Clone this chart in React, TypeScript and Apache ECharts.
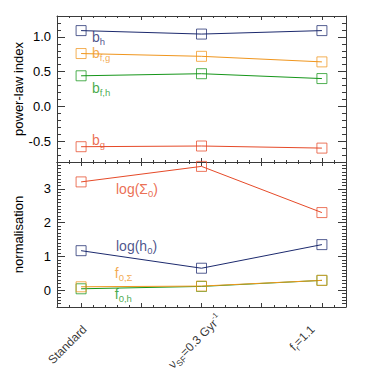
import React, { useEffect, useRef } from 'react';
import * as echarts from 'echarts';

// ---- data ----
const xPositions = [0, 1, 2];
const categories = ['Standard', 'νSF=0.3 Gyr-1', 'fr=1.1'];
const categoryRich = ['{m|Standard}', '{m|ν}{s|SF}{m|=0.3 Gyr}{p|-1}', '{m|f}{s|r}{m|=1.1}'];
const yTitles = ['power-law index', 'normalisation'];

const bH = [1.09, 1.04, 1.09];
const bFG = [0.76, 0.72, 0.64];
const bFH = [0.44, 0.47, 0.4];
const bG = [-0.58, -0.57, -0.6];

const logSigma0 = [3.21, 3.67, 2.3];
const logH0 = [1.17, 0.65, 1.35];
const f0Sigma = [0.1, 0.12, 0.29];
const f0H = [0.04, 0.11, 0.29];

// ---- styles ----
const NAVY = '#1c2a6e';
const ORANGE = '#f0961e';
const GREEN = '#16961a';
const RED = '#e64a28';
const AXIS = '#3a3a3a';
const FONT = 'Liberation Sans';

const GRID_LEFT = 57;
const GRID_WIDTH = 289;
const TOP_GRID = { top: 16, height: 146 };
const BOTTOM_GRID = { top: 162, height: 145 };

const topAnno = [
  { text: '{m|b}{s|h}', x: 0.09, y: 1.0, color: NAVY },
  { text: '{m|b}{s|f,g}', x: 0.09, y: 0.77, color: ORANGE },
  { text: '{m|b}{s|f,h}', x: 0.09, y: 0.27, color: GREEN },
  { text: '{m|b}{s|g}', x: 0.09, y: -0.49, color: RED },
];
const bottomAnno = [
  { text: '{m|log(Σ}{s|0}{m|)}', x: 0.29, y: 3.0, color: RED },
  { text: '{m|log(h}{s|0}{m|)}', x: 0.29, y: 1.31, color: NAVY },
  { text: '{m|f}{s|0,Σ}', x: 0.28, y: 0.5, color: ORANGE },
  { text: '{m|f}{s|0,h}', x: 0.28, y: -0.1, color: GREEN },
];
const xLabelOffsets = [
  [-12, 17],
  [6, 20],
  [-21, 8],
];

const annoRich = {
  m: { fontSize: 14, fontFamily: FONT, verticalAlign: 'middle' },
  s: { fontSize: 9.5, fontFamily: FONT, verticalAlign: 'bottom', padding: [9, 0, 0, 0] },
};
const catRich = {
  m: { fontSize: 12, fontFamily: FONT, verticalAlign: 'middle' },
  s: { fontSize: 8.5, fontFamily: FONT, verticalAlign: 'bottom', padding: [8, 0, 0, 0] },
  p: { fontSize: 7.5, fontFamily: FONT, verticalAlign: 'top', padding: [0, 0, 9, 0] },
};

function xAxis(gridIndex: number, position: 'top' | 'bottom') {
  return {
    type: 'value',
    gridIndex,
    position,
    min: -0.2,
    max: 2.2,
    minInterval: 0.5,
    maxInterval: 0.5,
    axisLine: { show: true, onZero: false, lineStyle: { color: AXIS, width: 1 } },
    axisTick: { show: true, inside: true, length: 4, lineStyle: { color: AXIS } },
    minorTick: { show: true, splitNumber: 5, length: 2, lineStyle: { color: AXIS } },
    axisLabel: { show: false },
    splitLine: { show: false },
  };
}

function yAxis(
  gridIndex: number,
  position: 'left' | 'right',
  min: number,
  max: number,
  interval: number,
  minorSplit: number,
  digits: number
) {
  return {
    type: 'value',
    gridIndex,
    position,
    min,
    max,
    minInterval: interval,
    maxInterval: interval,
    axisLine: { show: true, onZero: false, lineStyle: { color: AXIS, width: 1 } },
    axisTick: { show: true, inside: true, length: 8, lineStyle: { color: AXIS } },
    minorTick: { show: true, splitNumber: minorSplit, length: 4, lineStyle: { color: AXIS } },
    axisLabel: {
      show: position === 'left',
      showMinLabel: false,
      showMaxLabel: false,
      fontSize: 13,
      fontFamily: FONT,
      color: '#000',
      margin: 6,
      formatter: (v: number) => v.toFixed(digits),
    },
    splitLine: { show: false },
  };
}

function lineSeries(axis: number, values: number[], color: string) {
  return {
    type: 'line',
    xAxisIndex: axis,
    yAxisIndex: axis,
    data: xPositions.map((x, i) => [x, values[i]]),
    symbol: 'rect',
    symbolSize: 10,
    lineStyle: { color, width: 1 },
    itemStyle: { color: 'rgba(0,0,0,0)', borderColor: color, borderWidth: 1, opacity: 0.75 },
    silent: true,
  };
}

function annoSeries(axis: number, items: { text: string; x: number; y: number; color: string }[]) {
  return {
    type: 'scatter',
    xAxisIndex: axis,
    yAxisIndex: axis,
    symbolSize: 1,
    itemStyle: { color: 'rgba(0,0,0,0)' },
    silent: true,
    data: items.map((a) => ({
      value: [a.x, a.y],
      label: {
        show: true,
        position: 'inside',
        align: 'left',
        verticalAlign: 'middle',
        color: a.color,
        formatter: a.text,
        rich: annoRich,
      },
    })),
  };
}

function yTitle(text: string, grid: { top: number; height: number }) {
  return {
    type: 'text',
    x: 18,
    y: grid.top + grid.height / 2,
    rotation: Math.PI / 2,
    style: {
      text,
      fill: '#000',
      fontSize: 13,
      fontFamily: FONT,
      align: 'center',
      verticalAlign: 'middle',
    },
    silent: true,
  };
}

const option = {
  animation: false,
  backgroundColor: '#fff',
  textStyle: { fontFamily: FONT },
  grid: [
    { left: GRID_LEFT, width: GRID_WIDTH, ...TOP_GRID, containLabel: false },
    { left: GRID_LEFT, width: GRID_WIDTH, ...BOTTOM_GRID, containLabel: false },
  ],
  xAxis: [xAxis(0, 'bottom'), xAxis(1, 'bottom'), xAxis(0, 'top'), xAxis(1, 'top')],
  yAxis: [
    yAxis(0, 'left', -0.8, 1.3, 0.5, 5, 1),
    yAxis(1, 'left', -0.5, 3.8, 1, 10, 0),
    yAxis(0, 'right', -0.8, 1.3, 0.5, 5, 1),
    yAxis(1, 'right', -0.5, 3.8, 1, 10, 0),
  ],
  graphic: [yTitle(yTitles[0], TOP_GRID), yTitle(yTitles[1], BOTTOM_GRID)],
  series: [
    lineSeries(0, bH, NAVY),
    lineSeries(0, bFG, ORANGE),
    lineSeries(0, bFH, GREEN),
    lineSeries(0, bG, RED),
    lineSeries(1, logSigma0, RED),
    lineSeries(1, logH0, NAVY),
    lineSeries(1, f0H, GREEN),
    lineSeries(1, f0Sigma, ORANGE),
    annoSeries(0, topAnno),
    annoSeries(1, bottomAnno),
    {
      type: 'scatter',
      name: 'categories',
      xAxisIndex: 1,
      yAxisIndex: 1,
      symbolSize: 1,
      itemStyle: { color: 'rgba(0,0,0,0)' },
      silent: true,
      clip: false,
      data: xPositions.map((x, i) => ({
        value: [x, -0.5],
        name: categories[i],
        label: {
          show: true,
          position: 'inside',
          rotate: 45,
          align: 'right',
          verticalAlign: 'middle',
          offset: xLabelOffsets[i],
          color: '#000',
          formatter: categoryRich[i],
          rich: catRich,
        },
      })),
    },
  ],
};

export default function App() {
  const ref = useRef<HTMLDivElement>(null);
  useEffect(() => {
    const chart = echarts.init(ref.current!, null, { renderer: 'svg' });
    chart.setOption(option as any);
    return () => chart.dispose();
  }, []);
  return (
    <div
      ref={ref}
      style={{ position: 'absolute', left: 0, top: 0, width: 374, height: 374, background: '#fff' }}
    />
  );
}
